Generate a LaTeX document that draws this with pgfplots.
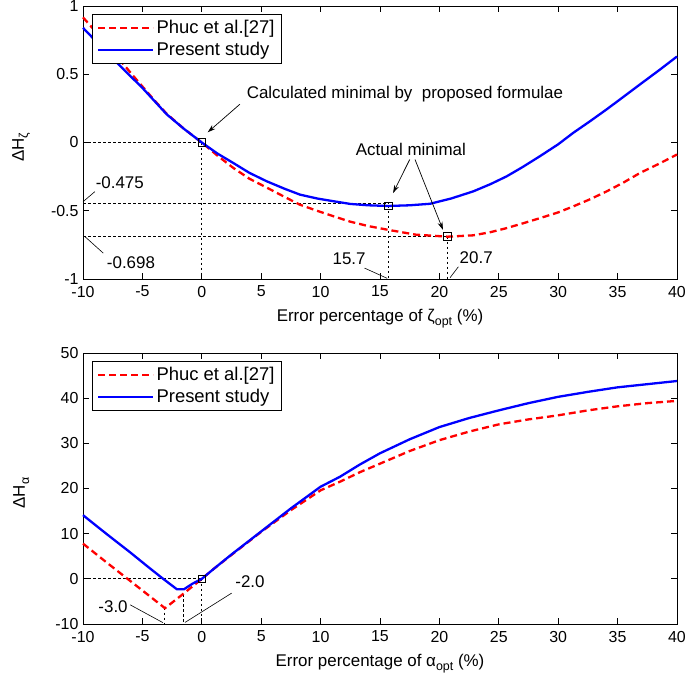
\documentclass[border=0pt]{standalone}
\usepackage{fontspec}
\setmainfont{Liberation Sans}
\usepackage{pgfplots}
\pgfplotsset{compat=1.18}
\usetikzlibrary{arrows.meta}

\newcommand{\sub}[1]{\raisebox{-0.45ex}{\fontsize{12.5}{12.5}\selectfont #1}}

\pgfplotsset{
  matlab/.style={
    scale only axis, width=594bp,
    xmin=-10, xmax=40, xtick={-10,-5,...,40},
    tick align=inside, major tick length=6bp,
    axis line style={black, line width=0.9bp},
    every tick/.style={black, line width=0.8bp},
    ticklabel style={font=\fontsize{16}{16}\selectfont},
    xticklabel style={yshift=-3.5bp},
    yticklabel style={xshift=-1bp},
    /pgf/number format/assume math mode=true,
    label style={font=\fontsize{17}{17}\selectfont},
    xlabel style={anchor=center, at={(axis description cs:0.5,-0.145)}},
    ylabel style={anchor=center, rotate=0, at={(axis description cs:-0.104,0.483)}},
    legend cell align=left,
    legend style={at={(0.015,0.97)}, anchor=north west, draw=black,
      line width=0.8bp, font=\fontsize{18.5}{20}\selectfont,
      row sep=3bp, inner xsep=5bp, inner ysep=4bp},
    legend image code/.code={\draw[#1] (0bp,0bp) -- (55bp,0bp);},
    clip=false,
  },
  red line/.style={red, line width=2.3bp, dash pattern=on 7bp off 4bp},
  blue line/.style={blue, line width=2.3bp},
  guide/.style={black, line width=0.9bp, dash pattern=on 2.5bp off 2.5bp, forget plot},
  box/.style={only marks, mark=square, mark size=3.8bp, black,
    mark options={line width=0.9bp}, forget plot},
}
\tikzset{
  lead/.style={black, line width=0.6bp},
  arr/.style={black, line width=0.7bp, -{Stealth[length=8bp, width=5bp]}},
  note/.style={font=\fontsize{17}{17}\selectfont},
}

\begin{document}
\begin{tikzpicture}
\path[use as bounding box] (0,0) rectangle (686bp,-683bp);

% top panel
\begin{axis}[matlab, at={(83bp,-6bp)}, anchor=north west, height=273bp,
    ymin=-1, ymax=1, ytick={-1,-0.5,0,0.5,1},
    xlabel={Error percentage of ζ\sub{opt} (\%)},
    ylabel={ΔH\sub{ζ}}]
  \addplot[guide] coordinates {(-10,0) (0,0)};
  \addplot[guide] coordinates {(-10,-0.45) (15.7,-0.45)};
  \addplot[guide] coordinates {(-10,-0.69) (20.7,-0.69)};
  \addplot[guide] coordinates {(0,0) (0,-1)};
  \addplot[guide] coordinates {(15.7,-0.465) (15.7,-1)};
  \addplot[guide] coordinates {(20.7,-0.69) (20.7,-1)};

  \addplot[red line] coordinates {
    (-10,0.917) (-8,0.72) (-5.77,0.488) (-4,0.31) (-2.95,0.21) (-1.5,0.1)
    (0,0) (1.3,-0.095) (2.65,-0.186) (4,-0.265) (5.46,-0.33) (7,-0.4)
    (8.27,-0.456) (9.7,-0.5) (11.07,-0.54) (12.5,-0.58) (14,-0.612)
    (15.7,-0.64) (18,-0.675) (20.7,-0.69) (22.85,-0.68) (24.3,-0.657)
    (25.66,-0.627) (27,-0.593) (28.47,-0.554) (30,-0.512) (31.27,-0.468)
    (32.7,-0.415) (34.08,-0.358) (35.5,-0.293) (36.89,-0.223) (38.5,-0.155)
    (40,-0.088)};
  \addlegendentry{Phuc et al.[27]}
  \addplot[blue line] coordinates {
    (-10,0.84) (-8,0.66) (-6.6,0.537) (-5,0.4) (-2.95,0.206) (-1.5,0.1)
    (0,0) (1.3,-0.08) (2.65,-0.15) (4,-0.222) (5.46,-0.284) (7,-0.34)
    (8.27,-0.382) (9.7,-0.41) (11.07,-0.43) (12.5,-0.45) (14,-0.46)
    (15.7,-0.465) (17.5,-0.46) (19.2,-0.449) (21,-0.41) (22.85,-0.358)
    (24.3,-0.305) (25.66,-0.248) (27,-0.18) (28.47,-0.10) (30,-0.013)
    (31.27,0.071) (32.7,0.157) (34.08,0.243) (35.5,0.335) (36.89,0.426)
    (38.5,0.53) (40,0.63)};
  \addlegendentry{Present study}

  \addplot[box] coordinates {(0,0) (15.7,-0.465) (20.7,-0.69)};

  \node[note] at (axis cs:17.1,0.353) {Calculated minimal by\ \ proposed formulae};
  \draw[arr] (axis cs:3.2,0.28) -- (axis cs:0.5,0.075);
  \node[note] at (axis cs:17.6,-0.05) {Actual minimal};
  \draw[arr] (axis cs:17.5,-0.125) -- (axis cs:16.1,-0.37);
  \draw[arr] (axis cs:17.95,-0.125) -- (axis cs:20.3,-0.64);

  \node[note] at (axis cs:-6.9,-0.294) {-0.475};
  \draw[lead] (axis cs:-10,-0.434) -- (axis cs:-9,-0.36);
  \node[note] at (axis cs:-5.96,-0.88) {-0.698};
  \draw[lead] (axis cs:-9.83,-0.69) -- (axis cs:-8.3,-0.81);
  \node[note] at (axis cs:12.4,-0.85) {15.7};
  \draw[lead] (axis cs:13.7,-0.92) -- (axis cs:15.6,-0.995);
  \node[note] at (axis cs:23.1,-0.846) {20.7};
  \draw[lead] (axis cs:21.6,-0.91) -- (axis cs:20.9,-0.99);
\end{axis}

% bottom panel
\begin{axis}[matlab, at={(83bp,-353bp)}, anchor=north west, height=271bp,
    ymin=-10, ymax=50, ytick={-10,0,...,50},
    xlabel style={at={(axis description cs:0.5,-0.146)}},
    xlabel={Error percentage of α\sub{opt} (\%)},
    ylabel={ΔH\sub{α}}]
  \addplot[guide] coordinates {(-10,0) (0,0)};
  \addplot[guide] coordinates {(0,0) (0,-10)};
  \addplot[guide] coordinates {(-1.58,-3.4) (-1.58,-10)};
  \addplot[guide] coordinates {(-3.15,-6.4) (-3.15,-10)};

  \addplot[red line] coordinates {
    (-10,7.8) (-8,3.6) (-6.3,0.1) (-4.5,-3.6) (-3.1,-6.5) (-1.5,-3.2)
    (0,0) (1,2.2) (2.5,5.3) (5,10.4) (7.5,15.2) (10,19.6) (11.63,21.5)
    (13.3,23.6) (15,25.5) (17.5,28.3) (20,30.7) (22.5,32.6) (25,34.2)
    (27.5,35.3) (30,36.2) (32.5,37.3) (35,38.2) (37.5,38.9) (40,39.4)};
  \addlegendentry{Phuc et al.[27]}
  \addplot[blue line] coordinates {
    (-10,14.1) (-8,9.9) (-6,5.8) (-4.5,2.6) (-3.3,0.1) (-2.1,-2.3)
    (-1.5,-2.3) (-0.8,-1.1) (0,0) (1,2.2) (2.5,5.4) (5,10.5) (7.5,15.6)
    (10,20.4) (11.63,22.6) (13.3,25.3) (15,27.8) (17.5,30.9) (20,33.6)
    (22.5,35.6) (25,37.3) (27.5,38.9) (30,40.3) (32.5,41.4) (35,42.4)
    (37.5,43.1) (40,43.8)};
  \addlegendentry{Present study}

  \addplot[box] coordinates {(0,0)};

  \node[note] at (axis cs:-7.47,-6.1) {-3.0};
  \draw[lead] (axis cs:-6.04,-5.74) -- (axis cs:-3.27,-9.7);
  \node[note] at (axis cs:4.06,-0.72) {-2.0};
  \draw[lead] (axis cs:2.52,-3.15) -- (axis cs:-1.41,-9.65);
\end{axis}
\end{tikzpicture}
\end{document}
